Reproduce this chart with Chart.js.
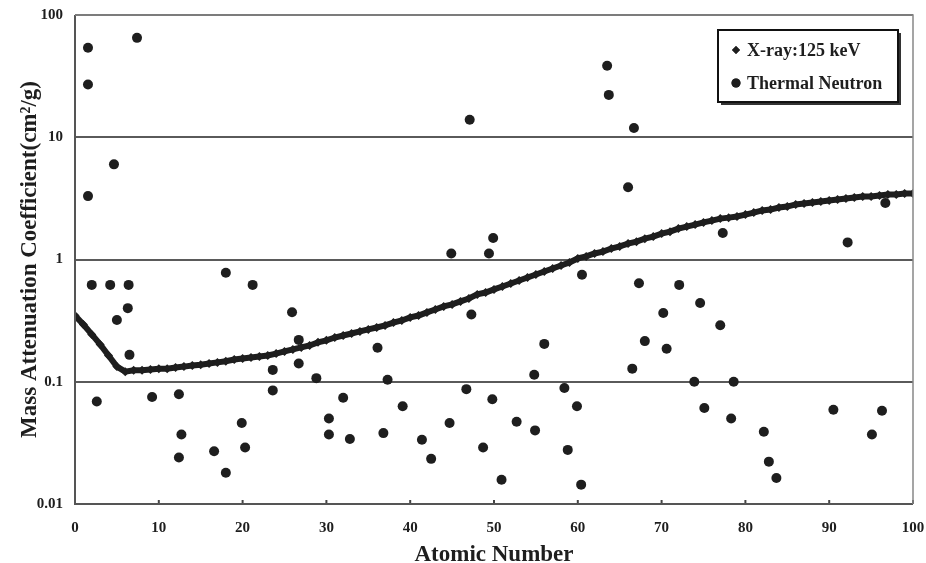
<!DOCTYPE html>
<html>
<head>
<meta charset="utf-8">
<script src="https://cdn.jsdelivr.net/npm/chart.js@4/dist/chart.umd.min.js"></script>
<style>
html,body{margin:0;padding:0;background:#fff;}
#wrap{width:926px;height:563px;position:relative;}
</style>
</head>
<body>
<div id="wrap"><canvas id="c" width="926" height="563"></canvas></div>
<script>
// ---- data ----
const xrayLabel = "X-ray:125 keV";
const neutronLabel = "Thermal Neutron";
const xTitle = "Atomic Number";
const yTitle = "Mass Attenuation Coefficient(cm\u00B2/g)";
const yTickValues = [0.01, 0.1, 1, 10, 100];
const yTickLabels = ["0.01", "0.1", "1", "10", "100"];
const xTickValues = [0,10,20,30,40,50,60,70,80,90,100];

const xrayZ = [0,1,2,3,4,5,6,7,8,9,10,11,12,13,14,15,16,17,18,19,20,21,22,23,24,25,26,27,28,29,30,31,32,33,34,35,36,37,38,39,40,41,42,43,44,45,46,47,48,49,50,51,52,53,54,55,56,57,58,59,60,61,62,63,64,65,66,67,68,69,70,71,72,73,74,75,76,77,78,79,80,81,82,83,84,85,86,87,88,89,90,91,92,93,94,95,96,97,98,99,100];
const xrayValues = [0.348,0.294,0.244,0.202,0.164,0.133,0.121,0.124,0.124,0.126,0.128,0.128,0.131,0.133,0.136,0.138,0.141,0.144,0.147,0.152,0.155,0.158,0.161,0.164,0.170,0.177,0.184,0.191,0.198,0.210,0.218,0.230,0.239,0.248,0.258,0.268,0.278,0.289,0.305,0.317,0.336,0.348,0.369,0.390,0.413,0.429,0.454,0.480,0.518,0.537,0.569,0.601,0.637,0.673,0.713,0.754,0.798,0.844,0.893,0.945,1.02,1.06,1.12,1.16,1.23,1.28,1.35,1.40,1.48,1.54,1.63,1.69,1.79,1.86,1.93,2.01,2.08,2.16,2.20,2.25,2.33,2.42,2.52,2.56,2.66,2.71,2.82,2.87,2.93,2.98,3.04,3.09,3.15,3.21,3.27,3.27,3.34,3.40,3.40,3.46,3.46];

const neutronZ = [1.55,1.55,1.55,2.0,2.6,4.65,4.2,5.0,6.4,6.3,6.5,7.4,9.2,12.4,12.7,12.4,16.6,18.0,18.0,19.9,20.3,21.2,23.6,23.6,25.9,26.7,26.7,28.8,32.0,30.3,30.3,32.8,36.1,37.3,36.8,39.1,41.4,42.5,44.7,46.7,47.3,48.7,49.8,50.9,52.7,54.8,54.9,56.0,58.4,58.8,59.9,60.4,47.1,63.5,63.7,44.9,49.4,49.9,60.5,66.7,66.0,77.3,92.2,96.7,67.3,72.1,74.6,70.2,77.0,68.0,70.6,66.5,73.9,78.6,75.1,78.3,82.2,82.8,83.7,90.5,96.3,95.1];
const neutronValues = [54,27,3.3,0.62,0.069,6.0,0.62,0.32,0.62,0.40,0.166,65,0.075,0.079,0.037,0.024,0.027,0.018,0.78,0.046,0.029,0.62,0.125,0.085,0.37,0.22,0.141,0.107,0.074,0.050,0.037,0.034,0.19,0.104,0.038,0.063,0.0335,0.0234,0.046,0.087,0.355,0.029,0.072,0.0158,0.047,0.114,0.040,0.204,0.089,0.0277,0.063,0.0144,13.9,38.4,22.2,1.12,1.12,1.5,0.75,11.9,3.9,1.65,1.38,2.9,0.64,0.62,0.44,0.365,0.29,0.215,0.186,0.128,0.1,0.1,0.061,0.050,0.039,0.0222,0.0163,0.059,0.058,0.037];

// ---- chart ----
const FONT = '"Liberation Serif","Times New Roman",serif';
const ink = '#1e1e1e';

const xrayData = xrayZ.map((z,i)=>({x:z, y:xrayValues[i]}));
const neutronData = neutronZ.map((z,i)=>({x:z, y:neutronValues[i]}));

const innerTicks = {
  id:'innerTicks',
  afterDatasetsDraw(chart){
    const ctx = chart.ctx, xs = chart.scales.x;
    const ca = chart.chartArea;
    ctx.save();
    ctx.strokeStyle = '#444';
    ctx.lineWidth = 2;
    xTickValues.forEach(v=>{
      const px = xs.getPixelForValue(v);
      ctx.beginPath(); ctx.moveTo(px, ca.bottom); ctx.lineTo(px, ca.bottom-4); ctx.stroke();
    });
    ctx.strokeStyle = '#555';
    ctx.lineWidth = 2;
    ctx.beginPath(); ctx.moveTo(ca.left, ca.top); ctx.lineTo(ca.left, ca.bottom); ctx.lineTo(ca.right, ca.bottom); ctx.stroke();
    ctx.strokeStyle = '#888';
    ctx.lineWidth = 1.5;
    ctx.beginPath(); ctx.moveTo(ca.left, ca.top); ctx.lineTo(ca.right, ca.top); ctx.lineTo(ca.right, ca.bottom); ctx.stroke();
    ctx.restore();
  }
};

const boxLegend = {
  id:'boxLegend',
  afterDraw(chart){
    const ctx = chart.ctx;
    const x0 = 718, y0 = 30, w = 180, h = 72;
    ctx.save();
    ctx.fillStyle = '#333';
    ctx.fillRect(x0+3, y0+3, w, h);
    ctx.fillStyle = '#fff';
    ctx.fillRect(x0, y0, w, h);
    ctx.strokeStyle = '#111';
    ctx.lineWidth = 2;
    ctx.strokeRect(x0, y0, w, h);
    ctx.font = 'bold 18px ' + FONT;
    ctx.textBaseline = 'middle';
    const items = chart.data.datasets.map(d=>({label:d.label, style:d.pointStyle, r:d.legendR}));
    items.forEach((it,i)=>{
      const cy = y0 + 20 + i*33;
      ctx.fillStyle = ink;
      Chart.helpers.drawPoint(ctx, {pointStyle: it.style, radius: it.r, borderWidth: 0}, 736, cy);
      ctx.fill();
      ctx.fillText(it.label, 747, cy + 1);
    });
    ctx.restore();
  }
};

new Chart(document.getElementById('c'), {
  type:'scatter',
  data:{
    datasets:[
      {
        label: xrayLabel,
        data: xrayData,
        pointStyle:'rectRot',
        pointRadius:4.5,
        pointBackgroundColor: ink,
        pointBorderColor: ink,
        pointBorderWidth:0,
        showLine:true,
        borderColor: ink,
        borderWidth:6,
        legendR:4,
        order:1
      },
      {
        label: neutronLabel,
        data: neutronData,
        pointStyle:'circle',
        pointRadius:5,
        pointBackgroundColor: ink,
        pointBorderColor: ink,
        pointBorderWidth:0,
        showLine:false,
        legendR:4.5,
        order:0
      }
    ]
  },
  options:{
    responsive:false,
    animation:false,
    layout:{padding:{top:15, right:13, left:0, bottom:0}},
    plugins:{legend:{display:false}, tooltip:{enabled:false}},
    scales:{
      x:{
        type:'linear', min:0, max:100,
        afterBuildTicks(s){ s.ticks = xTickValues.map(v=>({value:v})); },
        afterFit(s){ s.height = 59; s.paddingLeft = 0; s.paddingRight = 0; },
        grid:{display:false, drawTicks:false},
        border:{display:false},
        ticks:{padding:15, color:ink, font:{family:FONT, size:15, weight:'bold'}, maxRotation:0},
        title:{display:true, text:xTitle, color:ink, font:{family:FONT, size:23, weight:'bold'}, padding:{top:0, bottom:-6}}
      },
      y:{
        type:'logarithmic', min:0.01, max:100,
        afterBuildTicks(s){ s.ticks = yTickValues.map(v=>({value:v})); },
        afterFit(s){ s.width = 75; s.paddingTop = 0; s.paddingBottom = 0; },
        grid:{color:'#5a5a5a', lineWidth:2, drawTicks:false},
        border:{display:false},
        ticks:{padding:12, color:ink, font:{family:FONT, size:15, weight:'bold'},
          callback(v){ const i = yTickValues.indexOf(v); return i>=0 ? yTickLabels[i] : ''; }},
        title:{display:true, text:yTitle, color:ink, font:{family:FONT, size:23, weight:'bold'}, padding:{top:16, bottom:2}}
      }
    }
  },
  plugins:[innerTicks, boxLegend]
});
</script>
</body>
</html>
